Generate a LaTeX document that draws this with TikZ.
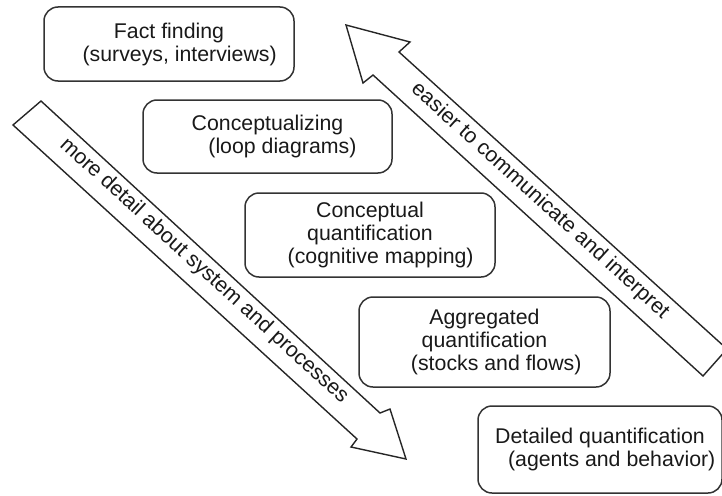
\documentclass[tikz,border=0pt]{standalone}
\usepackage{fontspec}
\setmainfont{Liberation Sans}
\begin{document}
\begin{tikzpicture}[x=1pt,y=-1pt,
  every node/.style={font=\fontsize{21.3}{23}\selectfont, text=black!90},
  stagebox/.style={draw=black!80, line width=1.5pt, rounded corners=14pt, align=center, inner sep=0pt},
  bigarrow/.style={draw=black!85, line width=1.4pt, line join=miter, fill=white},
  arrowlabel/.style={inner sep=0pt, anchor=center}]
\useasboundingbox (0,0) rectangle (722,495);
\clip (0,0) rectangle (722,495);
% stage boxes
\node[stagebox, minimum width=250pt, minimum height=74pt] (fact) at (169,44)
  {Fact finding\\\hspace{1em}(surveys, interviews)};
\node[stagebox, minimum width=249pt, minimum height=73pt] (concept) at (267.5,136.5)
  {Conceptualizing\\\hspace{1.4em}(loop diagrams)};
\node[stagebox, minimum width=250pt, minimum height=84pt] (cquant) at (370,235)
  {Conceptual\\quantification\\\hspace{1em}(cognitive mapping)};
\node[stagebox, minimum width=251pt, minimum height=90pt] (aquant) at (484.5,342)
  {Aggregated\\quantification\\\hspace{1.1em}(stocks and flows)};
\node[stagebox, minimum width=244pt, minimum height=87pt] (dquant) at (600,449.5)
  {Detailed quantification\\\hspace{1.1em}(agents and behavior)};
% down-right arrow
\coordinate (dT1) at (41,101);
\coordinate (dT2) at (13,125);
\coordinate (dUI) at (380,413);
\coordinate (dUB) at (390,409);
\coordinate (dTip) at (406,459);
\coordinate (dLB) at (351,447);
\coordinate (dLI) at (357,439);
\draw[bigarrow] (dT1) -- (dUI) -- (dUB) -- (dTip) -- (dLB) -- (dLI) -- (dT2) -- cycle;
\node[arrowlabel, rotate=-42.4] (down) at (204,271) {more detail about system and processes};
% up-left arrow
\coordinate (uTip) at (346,25);
\coordinate (uUB) at (410,42);
\coordinate (uUI) at (399,52);
\coordinate (uT1) at (727,349);
\coordinate (uT2) at (703,376);
\coordinate (uLI) at (373,75);
\coordinate (uLB) at (363,83);
\draw[bigarrow] (uTip) -- (uUB) -- (uUI) -- (uT1) -- (uT2) -- (uLI) -- (uLB) -- cycle;
\node[arrowlabel, rotate=-42.2] (up) at (540,201) {easier to communicate and interpret};
\end{tikzpicture}
\end{document}
